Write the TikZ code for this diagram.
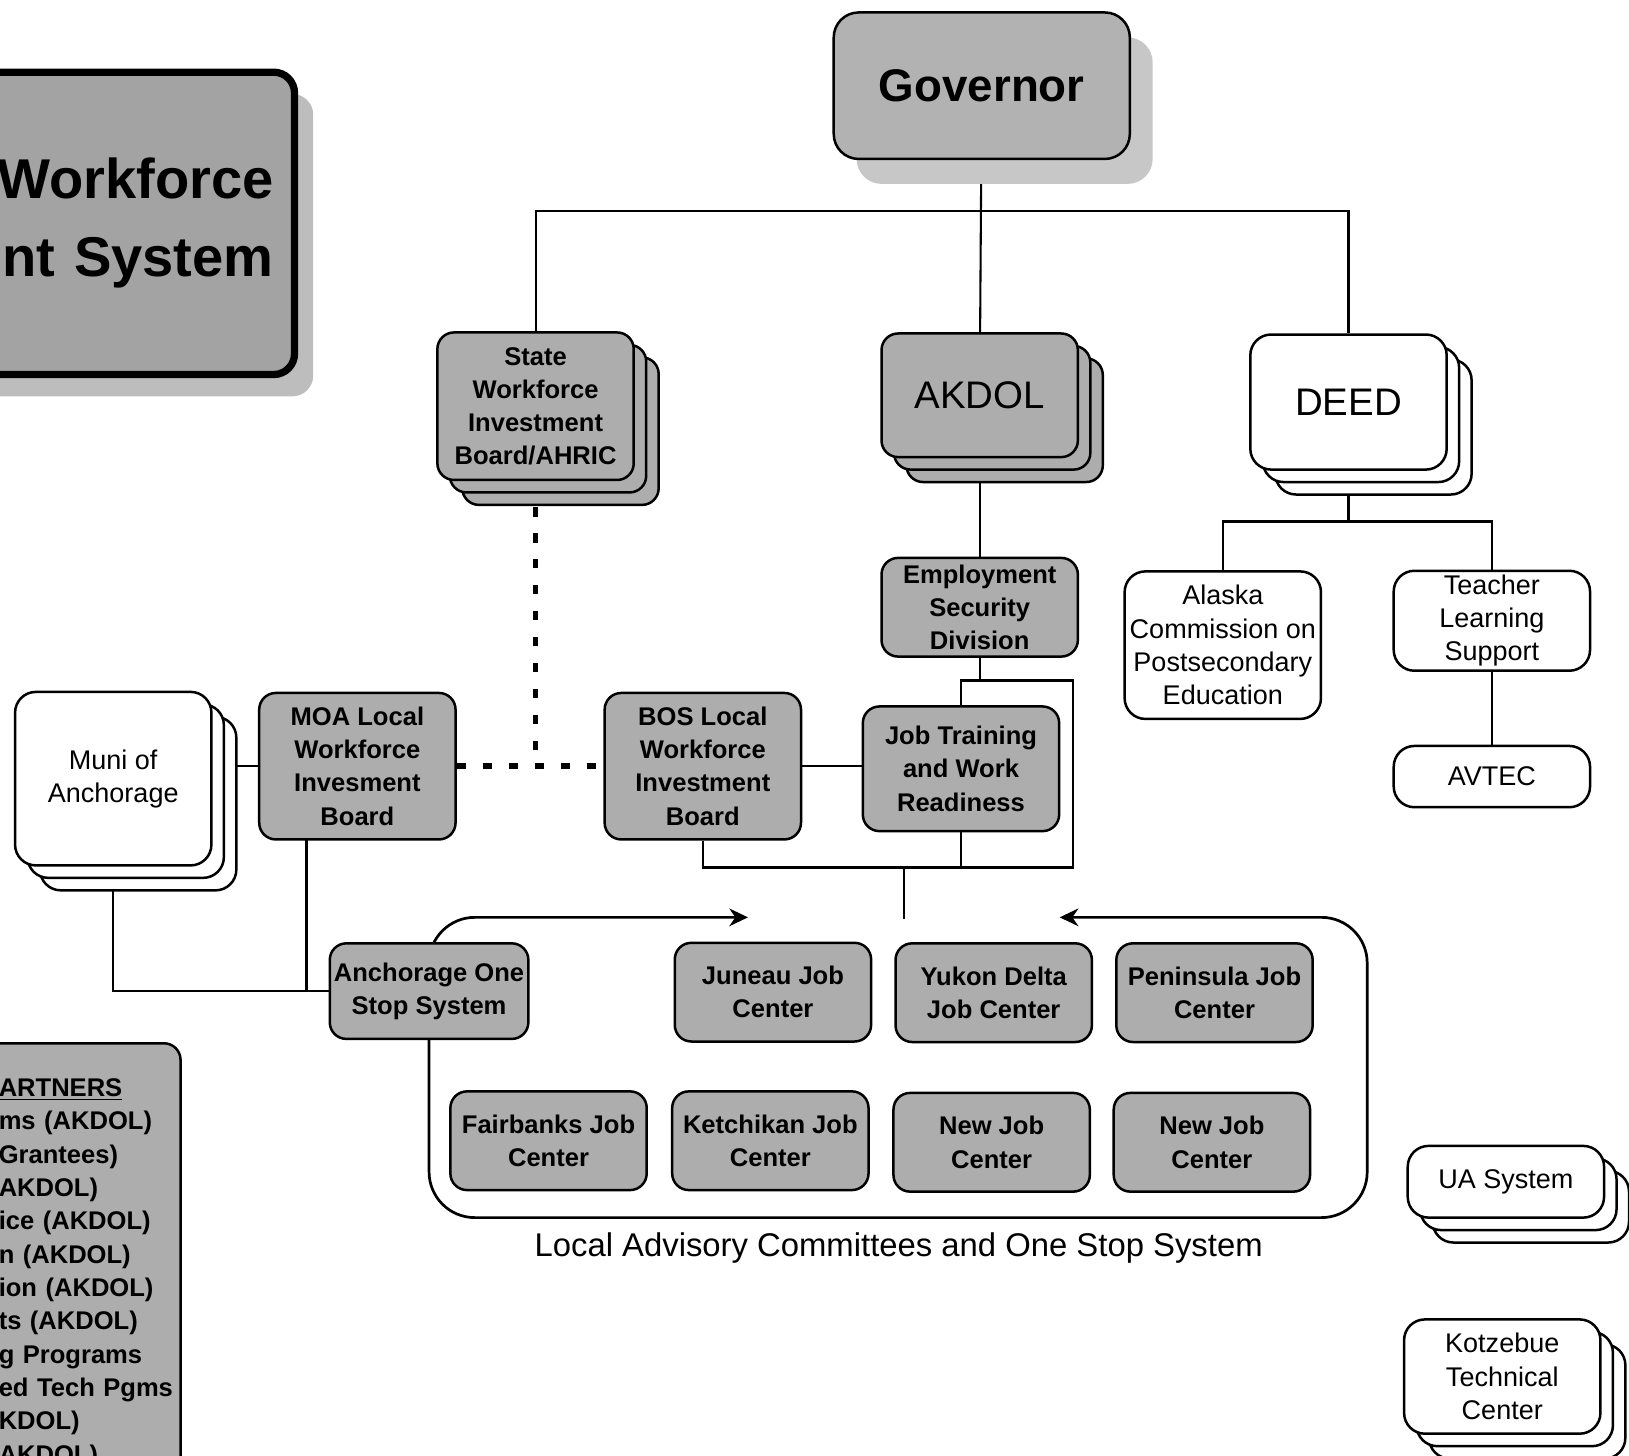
\documentclass[tikz,border=0pt]{standalone}
\usepackage{fontspec}
\setmainfont{Liberation Sans}
\usetikzlibrary{shadows,backgrounds,arrows.meta}

\tikzset{
  box/.style={draw, rounded corners=8pt, line width=1.2pt, align=center,
    minimum width=94.5pt, minimum height=47.5pt, inner sep=2pt},
  gbox/.style={box, fill=black!32, font=\bfseries\fontsize{12.3}{16}\selectfont},
  wbox/.style={box, fill=white, rounded corners=10pt, font=\fontsize{13}{16}\selectfont},
  bigtext/.style={font=\fontsize{18.5}{22}\selectfont},
  stacked/.style={
    general shadow={shadow xshift=12pt, shadow yshift=-12pt, fill=#1, draw=black},
    general shadow={shadow xshift=6pt, shadow yshift=-6pt, fill=#1, draw=black}},
  stacked/.default=white,
  link/.style={line width=1pt},
  dotlink/.style={line width=2.6pt, dash pattern=on 4.5pt off 8pt},
  loopline/.style={line width=1.3pt, rounded corners=22pt, -{Stealth[length=9pt,width=8.5pt]}}
}

\begin{document}
\begin{tikzpicture}[x=0.5pt, y=-0.5pt]
\useasboundingbox (0,0) rectangle (1568,1401);

% title and partners, cut by the page edge
\node[draw, line width=3.5pt, rounded corners=10pt, fill=black!36,
  minimum width=170pt, minimum height=145.5pt, text width=150pt, inner xsep=10pt,
  align=right, font=\bfseries\fontsize{27}{37.5}\selectfont,
  drop shadow={shadow xshift=9pt, shadow yshift=-10.5pt, fill=black!26, opacity=1},
  anchor=north east] (title) at (287,66) {Workforce\\nt System};
\node[draw, line width=1.2pt, rounded corners=8pt, fill=black!32, anchor=north east,
  text width=77.5pt, inner xsep=10pt, inner ysep=17pt, align=left,
  font=\bfseries\fontsize{12.3}{16.05}\selectfont] (partners) at (175,1003)
  {\underline{ARTNERS}\\ms~(AKDOL)\\Grantees)\\AKDOL)\\ice~(AKDOL)\\n~(AKDOL)\\ion~(AKDOL)\\ts~(AKDOL)\\g~Programs\\ed~Tech~Pgms\\KDOL)\\AKDOL)};

% top levels
\node[box, fill=black!30, rounded corners=12pt, minimum width=142.5pt, minimum height=70.5pt,
  font=\bfseries\fontsize{22}{26}\selectfont,
  drop shadow={shadow xshift=11pt, shadow yshift=-12pt, fill=black!22, opacity=1}]
  (gov) at (945,82.5) {Governor};
\node[gbox, stacked=black!32, minimum height=71pt] (swib) at (515.5,391) {State\\Workforce\\Investment\\Board/AHRIC};
\node[box, fill=black!32, bigtext, stacked=black!32, minimum height=59.5pt] (akdol) at (943,380.5) {AKDOL};
\node[wbox, bigtext, stacked, minimum height=65pt] (deed) at (1298,387) {DEED};

\node[gbox] (esd) at (943,584.5) {Employment\\Security\\Division};
\node[wbox, minimum height=71pt] (acpe) at (1177,621) {Alaska\\Commission on\\Postsecondary\\Education};
\node[wbox] (tls) at (1436,597.5) {Teacher\\Learning\\Support};
\node[wbox, minimum height=29.5pt] (avtec) at (1436,747.5) {AVTEC};

% local boards
\node[wbox, stacked, minimum height=83.5pt] (muni) at (109,749.5) {Muni of\\Anchorage};
\node[gbox, minimum height=70.5pt] (moa) at (344,737.5) {MOA Local\\Workforce\\Invesment\\Board};
\node[gbox, minimum height=70.5pt] (bos) at (676.5,737.5) {BOS Local\\Workforce\\Investment\\Board};
\node[gbox, minimum height=60pt] (jtw) at (925,740) {Job Training\\and Work\\Readiness};

% one stop system
\node[gbox, minimum height=46pt] (aos) at (413,954) {Anchorage One\\Stop System};
\node[gbox] (juneau) at (744,955) {Juneau Job\\Center};
\node[gbox] (yukon) at (956.5,955.5) {Yukon Delta\\Job Center};
\node[gbox] (penin) at (1169,955.5) {Peninsula Job\\Center};
\node[gbox] (fair) at (528,1098) {Fairbanks Job\\Center};
\node[gbox] (ketch) at (741.5,1098) {Ketchikan Job\\Center};
\node[gbox] (new1) at (954.5,1099.5) {New Job\\Center};
\node[gbox] (new2) at (1166.5,1099.5) {New Job\\Center};
\node[font=\fontsize{15.8}{18}\selectfont] (caption) at (865,1201) {Local Advisory Committees and One Stop System};

\node[wbox, stacked, minimum height=34.5pt] (ua) at (1449.5,1137.5) {UA System};
\node[wbox, stacked, minimum height=55pt] (kotz) at (1446,1325) {Kotzebue\\Technical\\Center};

\coordinate (gbus) at (943,203);
\coordinate (dbus) at (1298,502);
\coordinate (jr) at (1033,655);
\coordinate (jbus) at (1033,835);
\coordinate (drop) at (870,885);
\coordinate (mdrop) at (295,954);
\coordinate (topL) at (720,883);
\coordinate (topR) at (1020,883);
\coordinate (botR) at (1316,1172);

\begin{pgfonlayer}{background}
  \draw[link] (gov) -- (akdol);
  \draw[link] (swib) |- (gbus) -| (deed);
  \draw[link] (akdol) -- (esd);
  \draw[link] (deed) -- (dbus);
  \draw[link] (acpe) |- (dbus) -| (tls);
  \draw[link] (tls) -- (avtec);
  \draw[link] (esd) -- (esd |- jr);
  \draw[link] (jtw) |- (jr) -- (jbus) -| (bos);
  \draw[link] (jtw) -- (jtw |- jbus);
  \draw[link] (drop |- jbus) -- (drop);
  \draw[link] (bos) -- (bos -| jtw);
  \draw[link] (moa) -- (moa -| muni);
  \draw[link] (muni) |- (aos);
  \draw[link] (mdrop |- moa) -- (mdrop);
  \draw[dotlink] (swib) -- (swib |- moa);
  \draw[dotlink] (moa) -- (bos);
  \draw[loopline] (aos) |- (topL);
  \draw[loopline] (aos) |- (botR) |- (topR);
\end{pgfonlayer}
\end{tikzpicture}
\end{document}
